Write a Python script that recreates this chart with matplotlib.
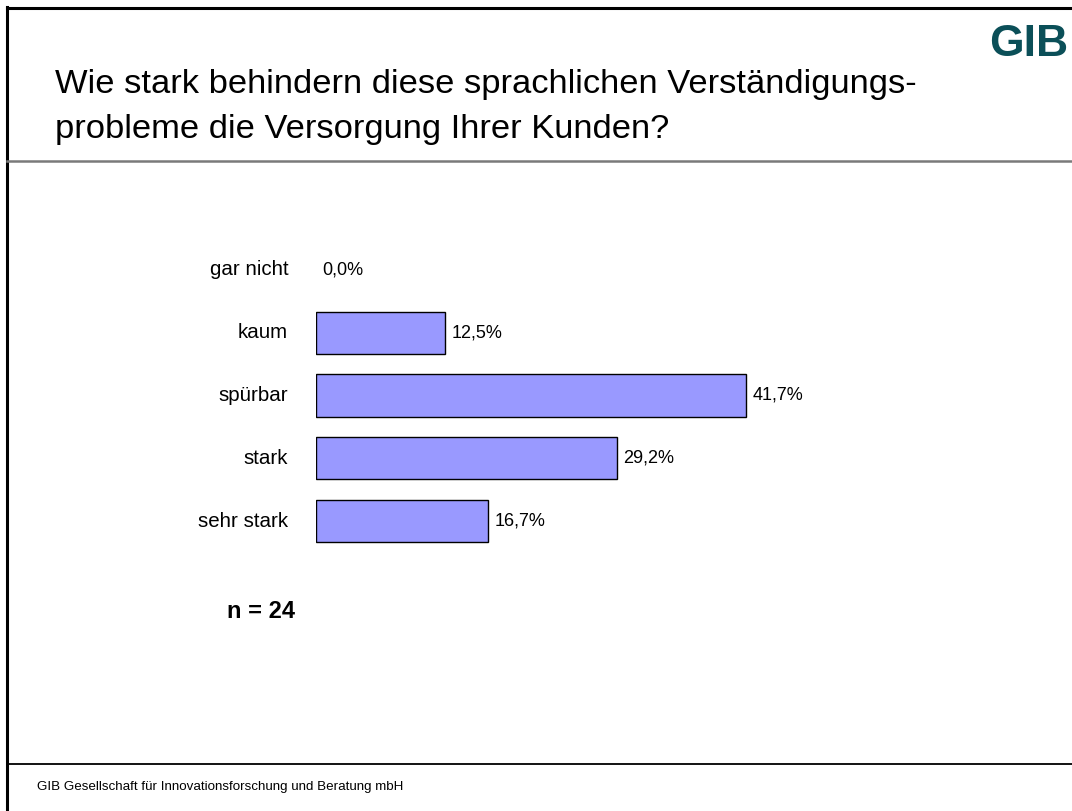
import matplotlib
matplotlib.use("Agg")
import matplotlib.pyplot as plt
from matplotlib.lines import Line2D

plt.rcParams['font.family'] = ['Liberation Sans', 'DejaVu Sans']

categories = ["gar nicht", "kaum", "spürbar", "stark", "sehr stark"]
values = [0.0, 12.5, 41.7, 29.2, 16.7]
value_labels = ["0,0%", "12,5%", "41,7%", "29,2%", "16,7%"]
title_lines = ["Wie stark behindern diese sprachlichen Verständigungs-",
               "probleme die Versorgung Ihrer Kunden?"]
footer = "GIB Gesellschaft für Innovationsforschung und Beratung mbH"
n_text = "n = 24"

W, H = 1072, 811
fig = plt.figure(figsize=(W / 100, H / 100), dpi=100)
fig.patch.set_facecolor("white")

def fx(px):
    return px / W

def fy(py):
    return 1 - py / H

# frame lines
fig.add_artist(Line2D([fx(7), fx(7)], [fy(7), fy(811)], color="black", lw=2.2))
fig.add_artist(Line2D([fx(7), fx(1072)], [fy(7.5), fy(7.5)], color="black", lw=2.2))
fig.add_artist(Line2D([fx(7), fx(1072)], [fy(161), fy(161)], color="#7a7a7a", lw=1.8))
fig.add_artist(Line2D([fx(7), fx(1072)], [fy(763.5), fy(763.5)], color="black", lw=1.3))

# title
fig.text(fx(55), fy(93), title_lines[0], fontsize=24.8, va="baseline", ha="left", color="black")
fig.text(fx(55), fy(138), title_lines[1], fontsize=24.8, va="baseline", ha="left", color="black")
# logo
fig.text(fx(1068), fy(44), "GIB", fontsize=32, fontweight="heavy", color="#0b4f58", ha="right", va="center")
# footer
fig.text(fx(37), fy(787), footer, fontsize=9.6, ha="left", va="center", color="black")
# n
fig.text(fx(295), fy(611), n_text, fontsize=17, fontweight="bold", ha="right", va="center")

# axes
left, right = 316, 316 + 10.32 * 50
top, bottom = 238.6, 552.4
ax = fig.add_axes([fx(left), fy(bottom), (right - left) / W, (bottom - top) / H])
ax.set_xlim(0, 50)
ax.set_ylim(len(categories) - 0.5, -0.5)
ypos = list(range(len(categories)))
lws = [0 if v == 0 else 1.0 for v in values]
ax.barh(ypos, values, height=0.67, color="#9999ff", edgecolor="black", linewidth=lws)
for y, v, lab in zip(ypos, values, value_labels):
    ax.text(v + 0.6, y, lab, fontsize=13, ha="left", va="center")
for y, c in zip(ypos, categories):
    ax.text(-2.7, y, c, fontsize=14.8, ha="right", va="center")
ax.axis("off")

fig.savefig("out.png", dpi=100, facecolor="white")
